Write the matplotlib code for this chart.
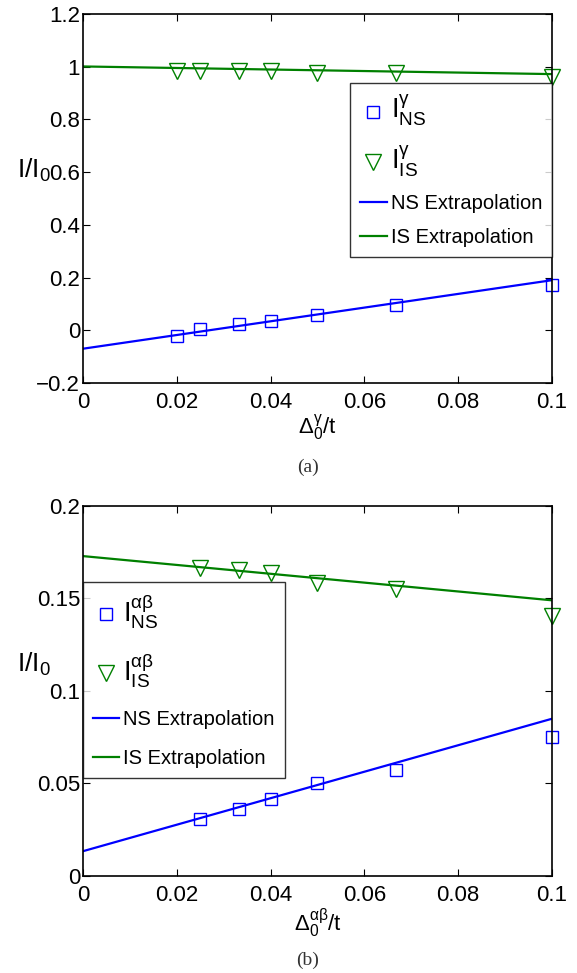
import matplotlib
matplotlib.use("Agg")
import matplotlib.pyplot as plt

plt.rcParams['font.family'] = ['Liberation Sans', 'DejaVu Sans']
plt.rcParams['mathtext.fontset'] = 'custom'
plt.rcParams['mathtext.rm'] = 'Liberation Sans'
plt.rcParams['mathtext.it'] = 'Liberation Sans'

# panel (a): gamma
x_a = [0.02, 0.025, 1 / 30, 0.04, 0.05, 1 / 15, 0.1]
ns_a = [-0.020, 0.005, 0.025, 0.037, 0.058, 0.094, 0.171]
is_a = [0.985, 0.985, 0.984, 0.982, 0.978, 0.975, 0.962]
ns_fit_a = [-0.070, 0.190]
is_fit_a = [1.001, 0.972]

# panel (b): alpha-beta
x_b = [0.025, 1 / 30, 0.04, 0.05, 1 / 15, 0.1]
ns_b = [0.0309, 0.0361, 0.0415, 0.0500, 0.0572, 0.0749]
is_b = [0.1664, 0.1652, 0.1637, 0.1583, 0.1550, 0.1403]
ns_fit_b = [0.0134, 0.085]
is_fit_b = [0.1729, 0.149]

fit_x = [0, 0.1]
blue = (0, 0, 1)
green = (0, 0.5, 0)


def draw_panel(ax, x, ns, is_, ns_fit, is_fit, sup, ylim, yticks, yfmt, leg_anchor, leg_loc, spacing):
    h1, = ax.plot(x, ns, 's', ms=9, mfc='none', mec=blue, mew=1.0, linestyle='none', clip_on=False)
    h2, = ax.plot(x, is_, 'v', ms=11.5, mfc='none', mec=green, mew=1.0, linestyle='none', clip_on=False)
    h3, = ax.plot(fit_x, ns_fit, '-', color=blue, lw=1.6)
    h4, = ax.plot(fit_x, is_fit, '-', color=green, lw=1.6)
    ax.set_xlim(0, 0.1)
    ax.set_ylim(*ylim)
    ax.set_xticks([0, 0.02, 0.04, 0.06, 0.08, 0.1])
    ax.set_xticklabels(['0', '0.02', '0.04', '0.06', '0.08', '0.1'])
    ax.set_yticks(yticks)
    ax.set_yticklabels(yfmt)
    ax.tick_params(direction='in', top=True, right=True, labelsize=16, length=5, width=0.8)
    ax.tick_params(axis='x', pad=6.5)
    ax.tick_params(axis='y', pad=2)
    for s in ax.spines.values():
        s.set_linewidth(1.2)
    ax.set_xlabel(r'$\mathregular{\Delta_0^{%s}/t}$' % sup, fontsize=16, labelpad=0)
    labels = [r'$\mathregular{I^{%s}_{NS}}$' % sup, r'$\mathregular{I^{%s}_{IS}}$' % sup,
              'NS Extrapolation', 'IS Extrapolation']
    leg = ax.legend([h1, h2, h3, h4], labels, loc=leg_loc, bbox_to_anchor=leg_anchor,
                    fontsize=14.5, frameon=True, fancybox=False,
                    edgecolor='black', handlelength=1.3, handletextpad=0.2, borderpad=0.5,
                    labelspacing=spacing, borderaxespad=0)
    leg.get_frame().set_linewidth(1.0)
    for t in leg.get_texts()[:2]:
        t.set_fontsize(19.5)
    return ax


fig = plt.figure(figsize=(5.77, 9.73), dpi=100)
ax1 = fig.add_axes([0.1438, 0.6064, 0.8129, 0.3792])
ax2 = fig.add_axes([0.1438, 0.0997, 0.8129, 0.3803])

draw_panel(ax1, x_a, ns_a, is_a, ns_fit_a, is_fit_a, r'\gamma', (-0.2, 1.2),
           [-0.2, 0, 0.2, 0.4, 0.6, 0.8, 1.0, 1.2],
           ['\u22120.2', '0', '0.2', '0.4', '0.6', '0.8', '1', '1.2'],
           (1.0, 0.813), 'upper right', 0.75)
draw_panel(ax2, x_b, ns_b, is_b, ns_fit_b, is_fit_b, r'\alpha\beta', (0, 0.2),
           [0, 0.05, 0.1, 0.15, 0.2],
           ['0', '0.05', '0.1', '0.15', '0.2'],
           (0.0, 0.795), 'upper left', 1.0)

# horizontal y labels sitting over the tick labels, as in the original
ax1.text(-0.1407, 0.5556, r'$\mathregular{I/I_0}$', transform=ax1.transAxes,
         fontsize=19, ha='left', va='baseline')
ax2.text(-0.1407, 0.5514, r'$\mathregular{I/I_0}$', transform=ax2.transAxes,
         fontsize=19, ha='left', va='baseline')

fig.text(0.534, 0.520, '(a)', family='Liberation Serif', fontsize=14, color='#333333',
         ha='center', va='center')
fig.text(0.533, 0.0125, '(b)', family='Liberation Serif', fontsize=14, color='#333333',
         ha='center', va='center')

fig.savefig('out.png', dpi=100)
